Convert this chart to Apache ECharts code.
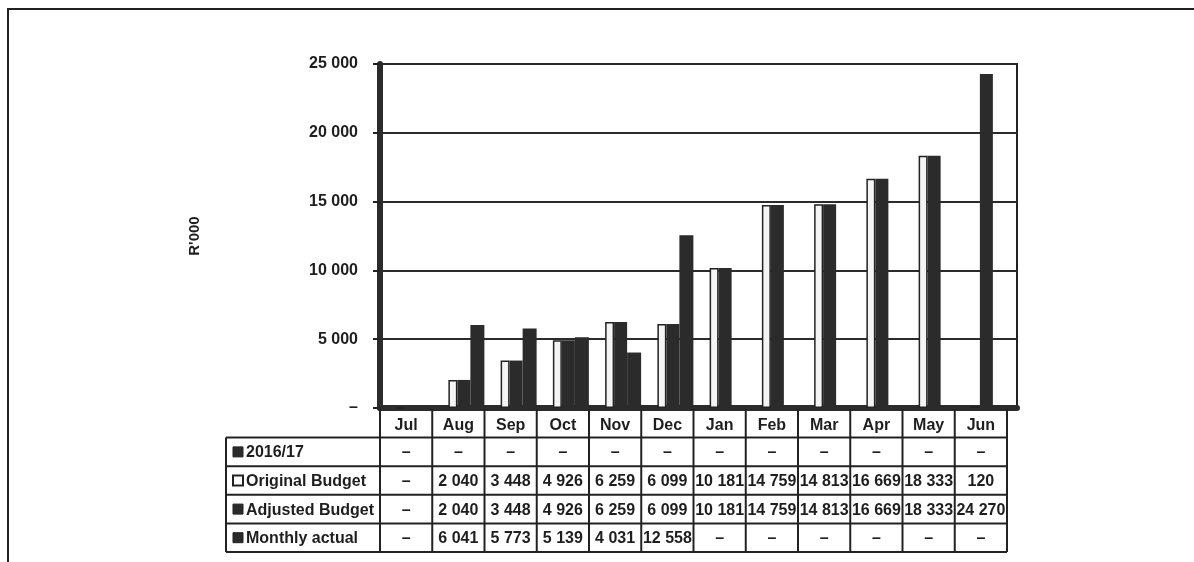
<!DOCTYPE html>
<html><head><meta charset="utf-8">
<script src="https://cdn.jsdelivr.net/npm/echarts@6/dist/echarts.min.js"></script>
<style>html,body{margin:0;padding:0;background:#fff}#c{width:1194px;height:562px}</style>
</head><body><div id="c"></div>
<script>
// ---- data ----
const months = ['Jul','Aug','Sep','Oct','Nov','Dec','Jan','Feb','Mar','Apr','May','Jun'];
const seriesNames = ['2016/17','Original Budget','Adjusted Budget','Monthly actual'];
const prior2016 = [0,0,0,0,0,0,0,0,0,0,0,0];
const originalBudget = [0,2040,3448,4926,6259,6099,10181,14759,14813,16669,18333,120];
const adjustedBudget = [0,2040,3448,4926,6259,6099,10181,14759,14813,16669,18333,24270];
const monthlyActual = [0,6041,5773,5139,4031,12558,0,0,0,0,0,0];
const yTickLabels = ['–','5 000','10 000','15 000','20 000','25 000'];
const yAxisName = "R'000";

// ---- helpers ----
const fmt = v => v === 0 ? '–' : String(v).replace(/\B(?=(\d{3})+(?!\d))/g, ' ');
const FONT = 'bold 16px "Liberation Sans", Arial, sans-serif';
const INK = '#1e1e1e';
const DARK = '#2b2b2b';

// layout
const gL = 380, gW = 627, gT = 64, gH = 344, wallW = 637;
const colW = gW / months.length;
const tabLeft = 226;
const rowY = [409, 437.6, 466.2, 494.8, 523.4, 552];
const tableRows = [prior2016, originalBudget, adjustedBudget, monthlyActual];

const graphics = [];
const line = (x1,y1,x2,y2,w) => graphics.push({type:'line', shape:{x1,y1,x2,y2}, style:{stroke:'#222', lineWidth:w||2}, z:10});
// outer frame
graphics.push({type:'polyline', shape:{points:[[8,562],[8,9],[1194,9]]}, style:{stroke:'#222', lineWidth:2, fill:null}, z:10});
// table horizontal lines
for (let r = 1; r < rowY.length; r++) line(tabLeft, rowY[r], gL + gW, rowY[r]);
// table vertical lines
for (let k = 0; k <= months.length; k++) line(gL + k*colW, rowY[0], gL + k*colW, rowY[rowY.length-1]);
line(tabLeft, rowY[1], tabLeft, rowY[rowY.length-1]);
// month header
months.forEach((m, i) => graphics.push({type:'text', z:11, style:{text:m, x: gL + (i+0.5)*colW, y: (rowY[0]+rowY[1])/2 + 2, align:'center', verticalAlign:'middle', font:FONT, fill:INK}}));
// rows
tableRows.forEach((arr, r) => {
  const yc = (rowY[r+1] + rowY[r+2]) / 2;
  const isLight = r === 1;
  graphics.push({type:'rect', z:11, shape:{x: tabLeft+7, y: yc-5, width:10, height:10}, style:{fill: isLight ? '#fff' : DARK, stroke: '#222', lineWidth: isLight ? 2 : 1}});
  graphics.push({type:'text', z:11, style:{text: seriesNames[r], x: tabLeft+20, y: yc+1, align:'left', verticalAlign:'middle', font:FONT, fill:INK}});
  arr.forEach((v, i) => graphics.push({type:'text', z:11, style:{text: fmt(v), x: gL + (i+0.5)*colW, y: yc+1, align:'center', verticalAlign:'middle', font:FONT, fill:INK}}));
});

const chart = echarts.init(document.getElementById('c'), null, {renderer:'canvas'});
chart.setOption({
  animation: false,
  backgroundColor: '#fff',
  grid: [
    {left: gL, width: gW, top: gT, height: gH},
    {left: gL, width: wallW, top: gT, height: gH, show: true, borderColor: '#222', borderWidth: 2, backgroundColor: 'transparent'}
  ],
  xAxis: [
    {gridIndex:0, type:'category', data: months, axisLine:{show:false}, axisTick:{show:false}, axisLabel:{show:false}},
    {gridIndex:1, type:'value', min:0, max:1, axisLabel:{show:false}, splitLine:{show:false}, axisTick:{show:false},
     axisLine:{show:true, lineStyle:{color: DARK, width:6}}}
  ],
  yAxis: [
    {gridIndex:0, type:'value', min:0, max:25000, interval:5000,
     axisLine:{show:true, lineStyle:{color: DARK, width:6}},
     axisTick:{show:true, length:7, lineStyle:{color:'#222', width:2}},
     splitLine:{show:false},
     axisLabel:{margin:22, color: INK, fontSize:16, fontWeight:'bold', fontFamily:'"Liberation Sans", Arial, sans-serif',
       formatter: (v) => yTickLabels[Math.round(v/5000)]},
     name: yAxisName, nameLocation:'middle', nameRotate:90, nameGap:178,
     nameTextStyle:{color: INK, fontSize:15, fontWeight:'bold', fontFamily:'"Liberation Sans", Arial, sans-serif'}},
    {gridIndex:1, type:'value', min:0, max:25000, interval:5000, axisLine:{show:false}, axisTick:{show:false}, axisLabel:{show:false},
     splitLine:{show:true, lineStyle:{color: DARK, width:2}}}
  ],
  series: [
    {name: seriesNames[0], type:'bar', xAxisIndex:0, yAxisIndex:0, data: prior2016, barWidth:16, barGap:'0%', itemStyle:{color: DARK}},
    {name: seriesNames[1], type:'bar', xAxisIndex:0, yAxisIndex:0, data: originalBudget, barWidth:9, barGap:'0%', itemStyle:{color:'#f4f4f4', borderColor:'#222', borderWidth:1.5}},
    {name: seriesNames[2], type:'bar', xAxisIndex:0, yAxisIndex:0, data: adjustedBudget, barWidth:13, barGap:'0%', itemStyle:{color: DARK}},
    {name: seriesNames[3], type:'bar', xAxisIndex:0, yAxisIndex:0, data: monthlyActual, barWidth:14, barGap:'0%', itemStyle:{color: DARK}}
  ],
  graphic: graphics
});
</script></body></html>
